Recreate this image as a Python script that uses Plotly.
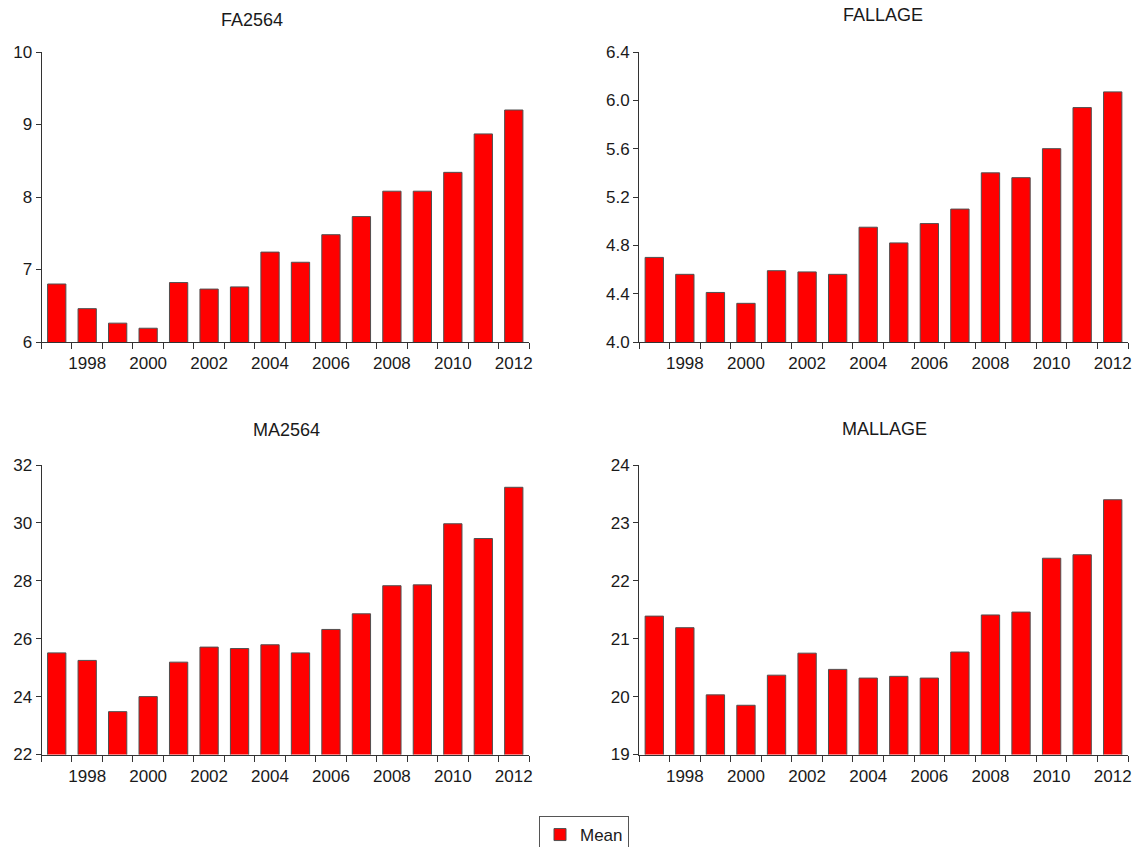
import plotly.graph_objects as go

years = list(range(1997, 2013))
tick_years = [1998, 2000, 2002, 2004, 2006, 2008, 2010, 2012]

fa2564 = [6.80, 6.46, 6.26, 6.19, 6.82, 6.73, 6.76, 7.24, 7.10, 7.48, 7.73, 8.08, 8.08, 8.34, 8.87, 9.20]
fallage = [4.70, 4.56, 4.41, 4.32, 4.59, 4.58, 4.56, 4.95, 4.82, 4.98, 5.10, 5.40, 5.36, 5.60, 5.94, 6.07]
ma2564 = [25.51, 25.25, 23.48, 24.00, 25.19, 25.71, 25.66, 25.79, 25.51, 26.32, 26.86, 27.83, 27.86, 29.97, 29.46, 31.23]
mallage = [21.39, 21.19, 20.03, 19.85, 20.37, 20.75, 20.47, 20.32, 20.35, 20.32, 20.77, 21.41, 21.46, 22.39, 22.45, 23.40]

titles = ["FA2564", "FALLAGE", "MA2564", "MALLAGE"]
series = [fa2564, fallage, ma2564, mallage]
y_ranges = [[6, 10], [4.0, 6.4], [22, 32], [19, 24]]
y_dticks = [1, 0.4, 2, 1]
y_formats = ["d", ".1f", "d", "d"]

W, H = 1136, 847
# panel pixel boxes (left, right, top, bottom)
boxes = [(41.5, 529, 52, 342), (639, 1128, 52, 342),
         (41.5, 529, 465, 754.5), (639, 1128, 465, 754.5)]
title_pos = [(252, 20), (883, 15), (286, 430), (884, 429)]

FONT = "Arial, Liberation Sans, sans-serif"
AX = "#333333"

fig = go.Figure()
layout = dict(
    width=W, height=H,
    margin=dict(l=0, r=0, t=0, b=0, autoexpand=False),
    paper_bgcolor="white", plot_bgcolor="white",
    font=dict(family=FONT, size=17, color="#1a1a1a"),
    showlegend=True,
    legend=dict(x=584 / W, xanchor="center", y=1 - 816 / H, yanchor="top",
                xref="container", yref="container",
                orientation="h", bordercolor="#555555", borderwidth=1,
                font=dict(size=17, family=FONT), bgcolor="white"),
    annotations=[],
)

for i, (vals, ttl) in enumerate(zip(series, titles)):
    n = "" if i == 0 else str(i + 1)
    l, r, t, b = boxes[i]
    fig.add_trace(go.Bar(
        x=years, y=vals, name="Mean", showlegend=(i == 0),
        marker=dict(color="#ff0000", line=dict(color="#505050", width=1)),
        width=0.6, xaxis="x" + n, yaxis="y" + n,
    ))
    layout["xaxis" + n] = dict(
        domain=[l / W, r / W], anchor="y" + n,
        range=[1996.5, 2012.5], tickmode="array", tickvals=tick_years,
        ticks="outside", ticklen=0, tickfont=dict(size=17),
        ticklabelstandoff=6, automargin=False,
        showline=True, linecolor=AX, linewidth=1, showgrid=False, zeroline=False,
        minor=dict(ticks="outside", ticklen=6, tick0=1996.5, dtick=1,
                   tickcolor=AX, showgrid=False),
    )
    layout["yaxis" + n] = dict(
        domain=[1 - b / H, 1 - t / H], anchor="x" + n,
        range=y_ranges[i], dtick=y_dticks[i], tick0=y_ranges[i][0],
        tickformat=y_formats[i], automargin=False,
        ticks="outside", ticklen=5, tickcolor=AX, tickfont=dict(size=17),
        showline=True, linecolor=AX, linewidth=1, showgrid=False, zeroline=False,
    )
    tx, ty = title_pos[i]
    layout["annotations"].append(dict(
        text=ttl, x=tx / W, y=1 - ty / H, xref="paper", yref="paper",
        xanchor="center", yanchor="middle", showarrow=False,
        font=dict(size=18, family=FONT, color="#1a1a1a"),
    ))

fig.update_layout(**layout)
fig.write_html(
    "out.html",
    config={"displayModeBar": False},
    post_script="document.body.style.margin='0';document.body.style.overflow='hidden';",
)
